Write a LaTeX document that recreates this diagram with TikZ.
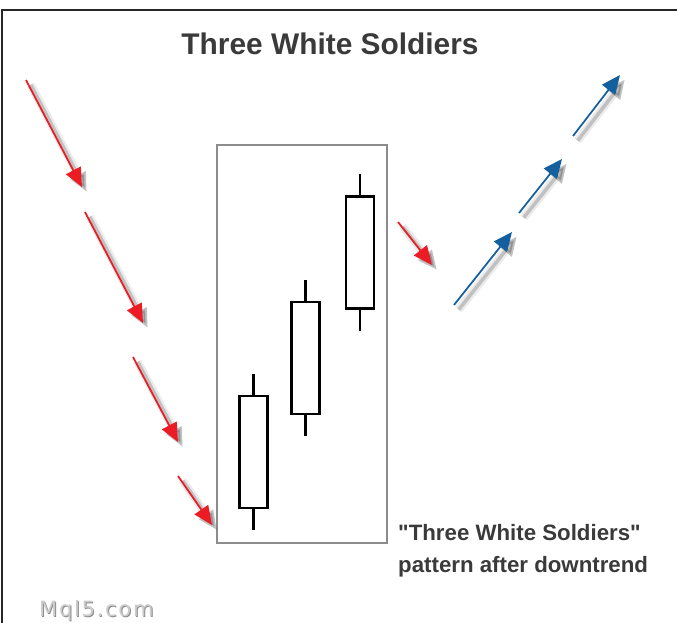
\documentclass[tikz,border=0pt]{standalone}
\usepackage{fontspec}
\setmainfont{Liberation Sans}[Ligatures=TeXOff]
\newfontfamily\marcafont[LetterSpace=8]{DejaVu Sans}
\usetikzlibrary{arrows.meta,positioning}
\definecolor{vermelho}{HTML}{EC1C24}
\definecolor{azul}{HTML}{14609E}
\definecolor{texto}{HTML}{3A3A3A}
\definecolor{moldura}{HTML}{8C8C8C}

\begin{document}
\begin{tikzpicture}[x=0.03cm, y=-0.03cm, >={Triangle[length=16pt,width=14pt]},
  seta/.style={->, line width=1.5pt,
    preaction={draw=black, opacity=0.08, line width=7pt, transform canvas={shift={(4pt,-4pt)}}},
    preaction={draw=black, opacity=0.18, line width=3pt, transform canvas={shift={(4pt,-4pt)}}}},
  vela/.style={draw, line width=2.5pt, fill=white, minimum width=0.84cm, minimum height=3.36cm, inner sep=0pt},
  pavio/.style={line width=2.5pt},
  caixa/.style={draw=moldura, line width=1.2pt, minimum width=5.1cm, minimum height=11.94cm, inner sep=0pt},
  legenda/.style={font=\fontsize{19}{23}\selectfont\bfseries, text=texto, inner sep=0pt}]
  \useasboundingbox (0,0) rectangle (677,623);
  \draw[line width=2pt, black!85] (677,10) -- (2,10) -- (2,623);
  \node[font=\fontsize{25.5}{30}\selectfont\bfseries, text=texto, anchor=base] (titulo) at (330,55) {Three White Soldiers};
  % padrao das tres velas
  \node[caixa] (padrao) at (302,344) {};
  \foreach \n/\x/\y in {1/253.5/452, 2/305.5/358, 3/360/252.5}{
    \node[vela] (v\n) at (\x,\y) {};
    \draw[pavio] (v\n.north) -- ++(0,-21);
    \draw[pavio] (v\n.south) -- ++(0,21);
  }
  % tendencia de baixa
  \foreach \i/\a/\b in {1/{26,80}/{82,187}, 2/{85,212}/{143,323}, 3/{133,357}/{178,442}, 4/{178,476}/{212,525}, 5/{398,222}/{432,265}}{
    \coordinate (r\i a) at (\a); \coordinate (r\i b) at (\b);
    \draw[seta, vermelho] (r\i a) -- (r\i b);
  }
  % tendencia de alta
  \foreach \i/\a/\b in {1/{454,305}/{512,232}, 2/{519,213}/{562,159}, 3/{573,136}/{620,75}}{
    \coordinate (a\i a) at (\a); \coordinate (a\i b) at (\b);
    \draw[seta, azul] (a\i a) -- (a\i b);
  }
  \node[legenda, anchor=base west] (leg1) at (398,540) {"Three White Soldiers"};
  \node[legenda, anchor=base west] (leg2) at (398,572) {pattern after downtrend};
  \node[font=\marcafont\fontsize{18}{22}\selectfont, text=black!45, anchor=base west] (sombra) at (36,617) {Mql5.com};
  \node[font=\marcafont\fontsize{18}{22}\selectfont, text=black!20, anchor=base west] (marca) at (35,616) {Mql5.com};
\end{tikzpicture}
\end{document}
